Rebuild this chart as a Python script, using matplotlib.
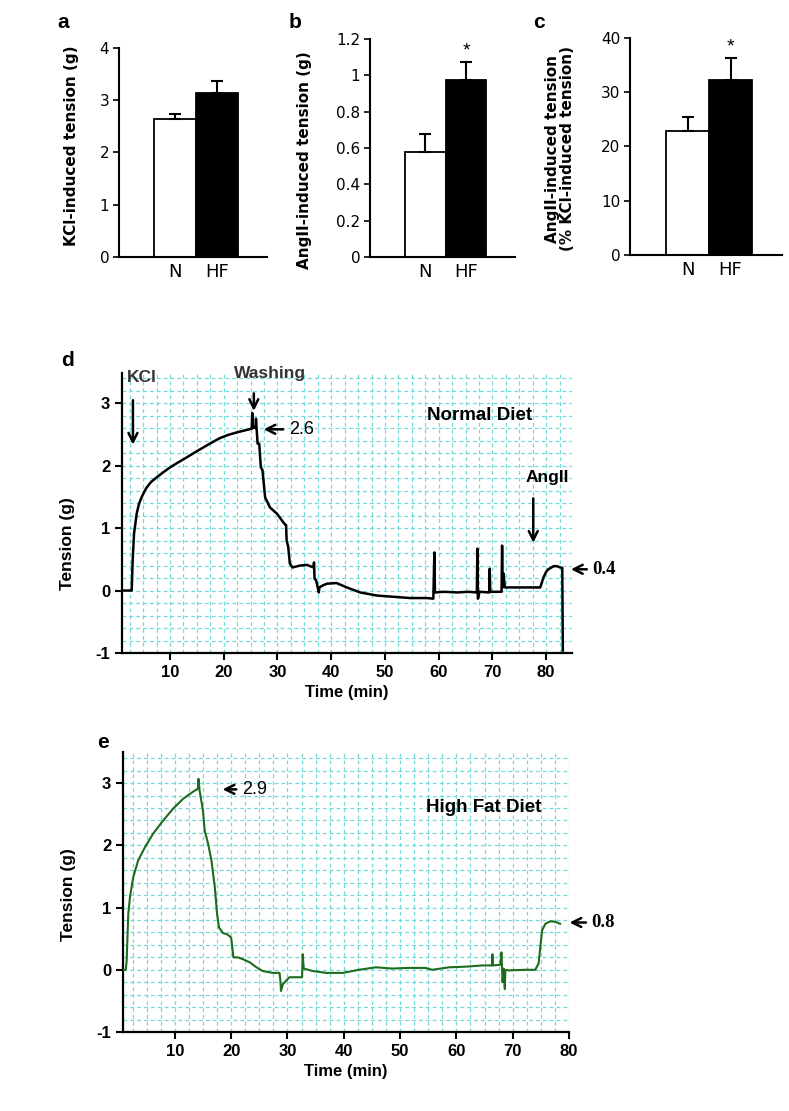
import matplotlib.pyplot as plt
from matplotlib.ticker import MultipleLocator

plt.rcParams['axes.unicode_minus'] = False

# --- bar panels a, b, c ---
groups = ['N', 'HF']
kcl_mean = [2.64, 3.13]
kcl_sem = [0.10, 0.24]
ang_mean = [0.58, 0.974]
ang_sem = [0.097, 0.097]
pct_mean = [22.9, 32.3]
pct_sem = [2.5, 4.0]

# --- trace d (normal diet), time in min, tension in g ---
d_time = [1.1, 2.0, 2.87, 3.05, 3.3, 3.8, 4.2, 4.7, 5.2, 5.66, 6.5, 7.5, 8.7, 10.0, 11.5,
          13.1, 14.6, 16.2, 17.8, 19.3, 20.8, 22.4, 23.8, 25.2, 25.3, 25.4, 25.6, 25.9,
          26.0, 26.3, 26.6, 26.9, 27.2, 27.7, 28.6, 29.9, 31.1, 31.5, 31.6, 31.7, 32.0,
          32.3, 32.8, 34.2, 35.5, 36.7, 36.8, 36.9, 37.2, 37.7, 37.8, 38.4, 39.2, 41.0,
          42.9, 45.4, 48.5, 51.6, 54.7, 57.8, 59.0, 59.2, 59.3, 61.0, 63.5, 65.5, 67.1,
          67.2, 67.3, 67.6, 69.4, 69.5, 69.6, 71.7, 71.8, 71.9, 72.1, 72.3, 74.5, 76.8,
          78.9, 79.5, 80.0, 80.4, 81.4, 82.0, 82.6, 83.0, 83.1]
d_tension = [0.0, 0.0, 0.0, 0.48, 0.91, 1.23, 1.38, 1.49, 1.58, 1.65, 1.74, 1.81, 1.89, 1.97,
             2.05, 2.13, 2.21, 2.29, 2.37, 2.44, 2.49, 2.53, 2.56, 2.59, 2.84, 2.60, 2.62,
             2.60, 2.75, 2.35, 2.35, 1.97, 1.93, 1.49, 1.33, 1.23, 1.09, 1.05, 1.05, 0.80,
             0.70, 0.43, 0.37, 0.40, 0.41, 0.37, 0.45, 0.19, 0.16, -0.03, 0.05, 0.08, 0.11,
             0.12, 0.05, -0.03, -0.08, -0.10, -0.12, -0.12, -0.13, 0.61, -0.03, -0.02,
             -0.03, -0.02, -0.03, 0.67, -0.13, -0.02, -0.03, 0.35, -0.02, -0.02, 0.72, 0.05,
             0.27, 0.05, 0.05, 0.05, 0.05, 0.21, 0.30, 0.34, 0.39, 0.39, 0.37, 0.36, -0.96]

# --- trace e (high fat diet) ---
e_time = [0.85, 1.3, 1.45, 1.74, 2.04, 2.62, 3.5, 4.7, 6.16, 7.93, 9.7, 11.5, 13.2, 14.1,
          14.2, 14.4, 14.7, 15.0, 15.3, 15.9, 16.5, 17.1, 17.5, 17.85, 18.55, 19.3, 20.0,
          20.2, 20.4, 21.2, 22.1, 23.3, 24.5, 25.6, 27.4, 28.6, 28.75, 28.85, 29.2, 30.35,
          31.5, 32.6, 32.7, 32.9, 34.5, 36.9, 39.8, 42.7, 45.7, 48.6, 51.6, 54.5, 55.7,
          58.7, 61.6, 64.6, 66.3, 66.4, 66.5, 67.8, 68.0, 68.2, 68.4, 68.6, 68.7, 68.9,
          69.3, 72.2, 74.0, 74.6, 74.9, 75.2, 75.8, 76.7, 77.6, 78.4]
e_tension = [0.0, 0.0, 0.15, 0.9, 1.17, 1.49, 1.76, 1.97, 2.19, 2.40, 2.59, 2.75, 2.86, 2.91,
             3.07, 2.88, 2.72, 2.56, 2.24, 2.03, 1.76, 1.33, 0.90, 0.68, 0.59, 0.57, 0.52,
             0.36, 0.20, 0.20, 0.17, 0.12, 0.04, -0.02, -0.05, -0.05, -0.18, -0.34, -0.23,
             -0.12, -0.12, -0.12, 0.25, 0.02, -0.02, -0.05, -0.05, 0.0, 0.04, 0.02, 0.03,
             0.03, 0.0, 0.04, 0.05, 0.07, 0.07, 0.25, 0.07, 0.08, 0.28, -0.20, 0.02, -0.31,
             -0.01, 0.0, -0.01, 0.0, 0.0, 0.10, 0.36, 0.63, 0.74, 0.78, 0.77, 0.74]
time_ticks = [10, 20, 30, 40, 50, 60, 70, 80]

narrow = ['Liberation Sans Narrow', 'DejaVu Sans']
arial = ['Liberation Sans', 'DejaVu Sans']
times = ['Liberation Serif', 'DejaVu Serif']

fig = plt.figure(figsize=(7.89, 11.11), dpi=100)


def bar_panel(rect, means, sems, ymax, yticks, ylabels, label, label_xy, star=None):
    ax = fig.add_axes(rect)
    colors = ['white', 'black']
    ax.bar([0, 1], means, width=1.0, color=colors, edgecolor='black', linewidth=1.3, zorder=2)
    ax.errorbar([0, 1], means, yerr=[[0, 0], sems], fmt='none', ecolor='black',
                elinewidth=1.5, capsize=4, capthick=1.5, zorder=3)
    ax.set_xlim(-1.35, 2.2)
    ax.set_ylim(0, ymax)
    ax.set_yticks(yticks)
    ax.set_yticklabels(ylabels, family=narrow, fontsize=11)
    ax.set_xticks([0, 1])
    ax.set_xticklabels(groups, family=narrow, fontsize=13)
    ax.tick_params(axis='x', length=0, pad=4)
    ax.tick_params(axis='y', direction='out', length=4, width=1.2, pad=3)
    for s in ['top', 'right']:
        ax.spines[s].set_visible(False)
    for s in ['left', 'bottom']:
        ax.spines[s].set_linewidth(1.5)
    ax.set_ylabel(label, fontsize=11, fontweight='bold', family=['DejaVu Sans'],
                  linespacing=1.0)
    ax.yaxis.set_label_coords(*label_xy)
    if star is not None:
        ax.text(1, star, '*', ha='center', va='center', fontsize=14, family=arial)
    return ax


bar_panel([0.1508, 0.7687, 0.1876, 0.1881], kcl_mean, kcl_sem, 4, [0, 1, 2, 3, 4],
          ['0', '1', '2', '3', '4'], 'KCl-induced tension (g)', (-0.27, 0.53))
bar_panel([0.469, 0.7687, 0.1838, 0.1962], ang_mean, ang_sem, 1.2,
          [0, 0.2, 0.4, 0.6, 0.8, 1.0, 1.2], ['0', '0.2', '0.4', '0.6', '0.8', '1', '1.2'],
          'AngII-induced tension (g)', (-0.40, 0.445), star=1.135)
bar_panel([0.7985, 0.7705, 0.1926, 0.1953], pct_mean, pct_sem, 40, [0, 10, 20, 30, 40],
          ['0', '10', '20', '30', '40'], 'AngII-induced tension\n(% KCl-induced tension)',
          (-0.36, 0.49), star=38.4)

for letter, x in [('a', 63), ('b', 295), ('c', 539)]:
    fig.text(x / 789, 1 - 22 / 1111, letter, fontsize=15, fontweight='bold',
             family=arial, ha='center', va='center')


def trace_panel(rect, t, y, color, lw, xlim, ylim):
    ax = fig.add_axes(rect)
    ax.plot(t, y, color=color, linewidth=lw, zorder=3)
    ax.set_xlim(*xlim)
    ax.set_ylim(*ylim)
    ax.set_xticks(time_ticks)
    ax.set_yticks([-1, 0, 1, 2, 3])
    ax.xaxis.set_minor_locator(MultipleLocator(2.5))
    ax.yaxis.set_minor_locator(MultipleLocator(0.2))
    ax.tick_params(which='minor', length=0)
    ax.tick_params(which='major', direction='out', length=5, width=1.5)
    ax.grid(True, which='both', color='#72d9d9', linestyle=(0, (3, 2.5)), linewidth=0.9)
    ax.set_axisbelow(True)
    for s in ['top', 'right']:
        ax.spines[s].set_visible(False)
    for s in ['left', 'bottom']:
        ax.spines[s].set_linewidth(1.6)
    for lab in ax.get_xticklabels() + ax.get_yticklabels():
        lab.set_fontsize(12)
        lab.set_fontweight('bold')
        lab.set_family(arial)
    ax.set_xlabel('Time (min)', fontsize=12, fontweight='bold', family=arial, labelpad=4)
    ax.set_ylabel('Tension (g)', fontsize=12.5, fontweight='bold', family=arial)
    return ax


arrow = dict(arrowstyle='->', color='black', lw=1.8, mutation_scale=16)

# panel d
axd = trace_panel([0.1546, 0.4122, 0.5703, 0.252], d_time, d_tension, 'black', 1.8,
                  (1.06, 84.8), (-1, 3.48))
axd.yaxis.set_label_coords(-0.104, 0.39)
axd.text(2.0, 3.41, 'KCl', fontsize=12.5, fontweight='bold', color='#333333',
         family=arial, ha='left', va='center')
axd.annotate('', xy=(3.1, 2.29), xytext=(3.1, 3.09), arrowprops=arrow)
axd.text(28.6, 3.47, 'Washing', fontsize=12.5, fontweight='bold', color='#333333',
         family=arial, ha='center', va='center', clip_on=False)
axd.annotate('', xy=(25.6, 2.83), xytext=(25.6, 3.2), arrowprops=arrow)
axd.annotate('2.6', xy=(26.9, 2.58), xytext=(32.1, 2.58), fontsize=13, family=arial,
             va='center', arrowprops=arrow)
axd.text(67.7, 2.8, 'Normal Diet', fontsize=13.5, fontweight='bold', family=arial,
         ha='center', va='center')
axd.text(80.2, 1.81, 'AngII', fontsize=12.5, fontweight='bold', family=arial,
         ha='center', va='center')
axd.annotate('', xy=(77.6, 0.72), xytext=(77.6, 1.52), arrowprops=arrow)
axd.annotate('0.4', xy=(84.1, 0.34), xytext=(88.6, 0.34), fontsize=13.5, family=times,
             fontweight='bold', va='center', arrowprops=arrow, annotation_clip=False)
fig.text(68 / 789, 1 - 360 / 1111, 'd', fontsize=15, fontweight='bold', family=arial,
         ha='center', va='center')

# panel e
axe = trace_panel([0.1559, 0.0711, 0.5653, 0.252], e_time, e_tension, '#1d6b1d', 1.5,
                  (0.8, 80), (-1, 3.5))
axe.yaxis.set_label_coords(-0.105, 0.49)
axe.annotate('2.9', xy=(18.0, 2.9), xytext=(21.9, 2.9), fontsize=13, family=arial,
             va='center', arrowprops=arrow)
axe.text(64.9, 2.61, 'High Fat Diet', fontsize=13.5, fontweight='bold', family=arial,
         ha='center', va='center')
axe.annotate('0.8', xy=(79.6, 0.76), xytext=(84.0, 0.76), fontsize=13.5, family=times,
             fontweight='bold', va='center', arrowprops=arrow, annotation_clip=False)
fig.text(103 / 789, 1 - 743 / 1111, 'e', fontsize=15, fontweight='bold', family=arial,
         ha='center', va='center')

fig.savefig('out.png', dpi=100)
